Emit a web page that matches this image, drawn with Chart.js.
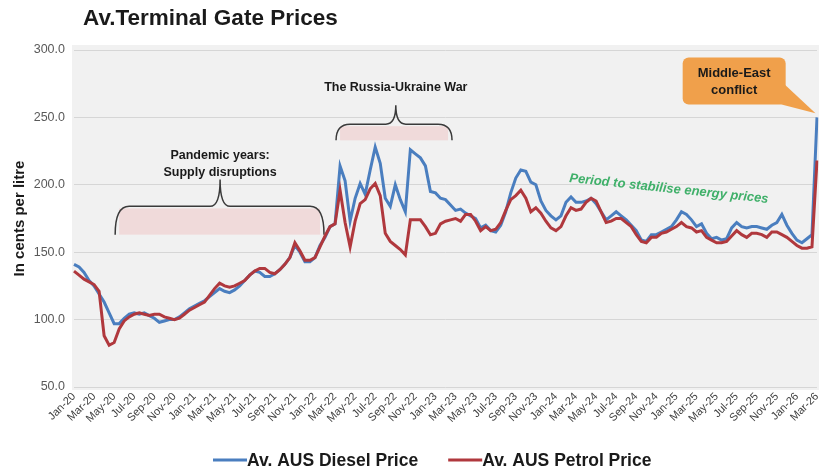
<!DOCTYPE html>
<html>
<head>
<meta charset="utf-8">
<title>Av.Terminal Gate Prices</title>
<script src="https://cdn.jsdelivr.net/npm/chart.js@4.4.1/dist/chart.umd.min.js"></script>
<style>
  html, body { margin: 0; padding: 0; background: #fff; }
  #wrap { width: 819px; height: 470px; }
</style>
</head>
<body>
<div id="wrap"><canvas id="tgpChart" width="819" height="470"></canvas></div>
<script>
// x axis ticks, one every two months
const tickLabels = ['Jan-20','Mar-20','May-20','Jul-20','Sep-20','Nov-20',
  'Jan-21','Mar-21','May-21','Jul-21','Sep-21','Nov-21',
  'Jan-22','Mar-22','May-22','Jul-22','Sep-22','Nov-22',
  'Jan-23','Mar-23','May-23','Jul-23','Sep-23','Nov-23',
  'Jan-24','Mar-24','May-24','Jul-24','Sep-24','Nov-24',
  'Jan-25','Mar-25','May-25','Jul-25','Sep-25','Nov-25',
  'Jan-26','Mar-26'];

const monthNames = ['Jan','Feb','Mar','Apr','May','Jun','Jul','Aug','Sep','Oct','Nov','Dec'];
const years = [20, 21, 22, 23, 24, 25, 26];

// Av. AUS diesel TGP, cents per litre, read twice a month (Jan-20 .. Mar-26)
const diesel = [141,139,135,129,125,119,113,105,97,97,
  101,104,105,104,105,103,101,98,99,100,
  100,102,105,108,110,112,114,117,120,123,
  121,120,122,125,129,133,136,135,132,132,
  134,137,141,146,155,150,143,143,146,155,
  161,169,171,214,203,173,190,201,193,211,
  228,216,190,184,200,189,180,226,223,220,
  214,195,194,190,189,185,181,182,179,177,
  175,168,170,166,165,170,180,194,205,211,
  210,202,200,188,181,177,174,177,187,191,
  187,187,188,190,186,180,174,177,180,177,
  174,170,166,159,158,163,163,165,167,169,
  174,180,178,174,169,171,164,160,161,159,
  160,168,172,169,168,169,169,168,167,170,
  172,178,170,164,159,157,160,163,250];

// Av. AUS petrol TGP, same dates
const petrol = [136,133,130,128,126,121,88,81,83,93,
  99,102,104,105,104,103,104,104,102,101,
  100,101,104,107,109,111,113,118,123,127,
  125,124,125,127,129,133,136,138,138,135,
  134,137,141,146,157,151,144,144,146,154,
  162,169,171,196,172,154,173,186,189,197,
  201,192,164,158,155,152,148,174,174,174,
  169,163,164,171,173,174,175,173,178,178,
  173,166,169,166,167,172,181,189,192,196,
  190,180,183,179,173,168,166,169,177,183,
  181,182,187,190,188,180,172,173,175,175,
  172,169,163,158,157,161,161,164,165,167,
  169,172,169,168,165,166,161,159,157,157,
  158,162,166,163,161,164,164,163,161,165,
  165,163,161,158,155,153,153,154,218];

// half-month categories
const periods = [];
years.forEach(yy => {
  monthNames.forEach(m => {
    periods.push(m + '-' + yy + ' a', m + '-' + yy + ' b');
  });
});
periods.length = diesel.length;

const FONT = "'Liberation Sans', Arial, sans-serif";

// braces: x in period index, y in cents
const braces = [
  { from: 8.2, to: 49.8, mid: 29.1, low: 163, high: 184, peak: 204,
    lines: ['Pandemic years:', 'Supply disruptions'], textY: 222 },
  { from: 52.2, to: 75.3, mid: 64.1, low: 233, high: 245, peak: 259,
    lines: ['The Russia-Ukraine War'], textY: 272 }
];

const annotate = {
  id: 'annotate',
  beforeDraw(chart) {
    const { ctx, chartArea: a } = chart;
    ctx.save();
    ctx.fillStyle = '#f1f1f1';
    ctx.fillRect(a.left - 2, a.top - 5, a.right - a.left + 4, a.bottom - a.top + 8);
    ctx.restore();
  },
  beforeDatasetsDraw(chart) {
    const { ctx, scales: { x, y } } = chart;
    ctx.save();
    braces.forEach(b => {
      const x1 = x.getPixelForValue(b.from), x2 = x.getPixelForValue(b.to), xc = x.getPixelForValue(b.mid);
      const yEnd = y.getPixelForValue(b.low), yTop = y.getPixelForValue(b.high), yPeak = y.getPixelForValue(b.peak);
      ctx.fillStyle = 'rgba(240,170,170,0.32)';
      ctx.fillRect(x1 + 4, yTop + 2, x2 - x1 - 8, yEnd - yTop - 2);

      ctx.strokeStyle = '#3a3a3a';
      ctx.lineWidth = 1.5;
      const r = 14, r2 = 10;
      ctx.beginPath();
      ctx.moveTo(x1, yEnd);
      ctx.quadraticCurveTo(x1, yTop, x1 + r, yTop);
      ctx.lineTo(xc - r2, yTop);
      ctx.quadraticCurveTo(xc, yTop, xc, yPeak);
      ctx.moveTo(x2, yEnd);
      ctx.quadraticCurveTo(x2, yTop, x2 - r, yTop);
      ctx.lineTo(xc + r2, yTop);
      ctx.quadraticCurveTo(xc, yTop, xc, yPeak);
      ctx.stroke();

      ctx.fillStyle = '#1a1a1a';
      ctx.font = 'bold 12.5px ' + FONT;
      ctx.textAlign = 'center';
      ctx.textBaseline = 'middle';
      const ty = y.getPixelForValue(b.textY);
      b.lines.forEach((t, k) => ctx.fillText(t, xc, ty + k * 17));
    });
    ctx.restore();
  },
  afterDatasetsDraw(chart) {
    const { ctx, scales: { x, y } } = chart;
    ctx.save();
    // green note
    ctx.translate(x.getPixelForValue(118.5), y.getPixelForValue(197));
    ctx.rotate(0.105);
    ctx.fillStyle = '#40b06a';
    ctx.font = 'italic bold 13px ' + FONT;
    ctx.textAlign = 'center';
    ctx.textBaseline = 'middle';
    ctx.fillText('Period to stabilise energy prices', 0, 0);
    ctx.restore();

    // Middle-East callout
    ctx.save();
    const cx = x.getPixelForValue(131.5), cy = y.getPixelForValue(277);
    const w = 103, h = 47;
    const bx = cx - w / 2, by = cy - h / 2;
    const tipX = x.getPixelForValue(147.7), tipY = y.getPixelForValue(253);
    ctx.fillStyle = '#f0a04b';
    ctx.beginPath();
    ctx.roundRect(bx, by, w, h, 6);
    ctx.fill();
    ctx.beginPath();
    ctx.moveTo(bx + w - 1, by + 27);
    ctx.lineTo(tipX, tipY);
    ctx.lineTo(bx + w - 8, by + h - 1);
    ctx.closePath();
    ctx.fill();
    ctx.fillStyle = '#1a1a1a';
    ctx.font = 'bold 13px ' + FONT;
    ctx.textAlign = 'center';
    ctx.textBaseline = 'middle';
    ctx.fillText('Middle-East', cx, cy - 8);
    ctx.fillText('conflict', cx, cy + 9);
    ctx.restore();
  },
  afterDraw(chart) {
    const { ctx } = chart;
    ctx.save();
    // title
    ctx.fillStyle = '#1a1a1a';
    ctx.font = 'bold 22.5px ' + FONT;
    ctx.textAlign = 'left';
    ctx.textBaseline = 'middle';
    ctx.fillText('Av.Terminal Gate Prices', 83, 19);

    // legend
    ctx.font = 'bold 17.5px ' + FONT;
    let lx = 213;
    const ly = 460;
    chart.data.datasets.forEach(ds => {
      ctx.strokeStyle = ds.borderColor;
      ctx.lineWidth = 3;
      ctx.beginPath();
      ctx.moveTo(lx, ly);
      ctx.lineTo(lx + 34, ly);
      ctx.stroke();
      ctx.fillStyle = '#1a1a1a';
      ctx.fillText(ds.label, lx + 34, ly + 1);
      lx += 34 + ctx.measureText(ds.label).width + 30;
    });
    ctx.restore();
  }
};

new Chart(document.getElementById('tgpChart').getContext('2d'), {
  type: 'line',
  data: {
    labels: periods,
    datasets: [
      { label: 'Av. AUS Diesel Price', data: diesel, borderColor: '#4a7ebf', borderWidth: 3,
        pointRadius: 0, tension: 0, order: 1 },
      { label: 'Av. AUS Petrol Price', data: petrol, borderColor: '#b0383d', borderWidth: 3,
        pointRadius: 0, tension: 0, order: 0 }
    ]
  },
  options: {
    responsive: false,
    animation: false,
    layout: { padding: { top: 50, right: 2, bottom: 25, left: 0 } },
    plugins: { legend: { display: false }, tooltip: { enabled: false } },
    scales: {
      x: {
        grid: { display: false, drawTicks: false },
        border: { display: false },
        ticks: {
          autoSkip: false, minRotation: 45, maxRotation: 45, padding: 3,
          color: '#404040', font: { family: FONT, size: 11 },
          callback: (v, i) => (i % 4 === 0 ? tickLabels[i / 4] : '')
        },
        afterFit: s => { s.height = 58; s.paddingLeft = 0; s.paddingRight = 0; }
      },
      y: {
        min: 50, max: 300,
        grid: { color: '#d6d6d6', drawTicks: false },
        border: { display: false },
        ticks: {
          stepSize: 50, padding: 9, color: '#595959',
          font: { family: FONT, size: 12.5 },
          callback: v => v.toFixed(1)
        },
        title: {
          display: true, text: 'In cents per litre', color: '#1a1a1a',
          font: { family: FONT, size: 15, weight: 'bold' }, padding: { top: 11, bottom: 0 }
        },
        afterFit: s => { s.width = 74; }
      }
    }
  },
  plugins: [annotate]
});
</script>
</body>
</html>
